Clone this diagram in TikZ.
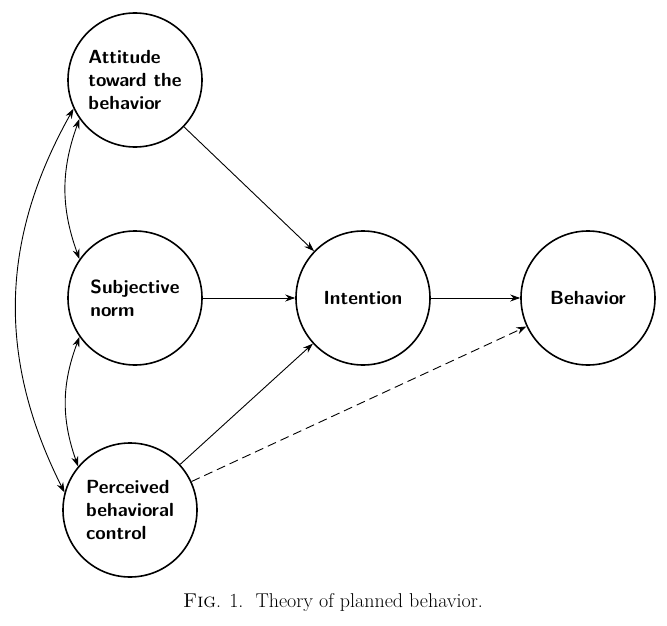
\documentclass[tikz,border=0pt]{standalone}
\usepackage{fontspec}
\usepackage{tikz}
\usetikzlibrary{arrows.meta}
\begin{document}
\begin{tikzpicture}[x=1pt,y=-1pt]
\tikzset{factor/.style={draw, circle, line width=1.6pt, minimum size=134pt, align=left, inner sep=0pt, font=\fontsize{19}{23}\selectfont\sffamily\bfseries},
  link/.style={-{Stealth[length=10pt,width=7pt]}, line width=0.9pt},
  both/.style={link, {Stealth[length=10pt,width=7pt]}-{Stealth[length=10pt,width=7pt]}}}
\useasboundingbox (0,0) rectangle (667,626);
				\node[factor] (A)at(135, 80) {Attitude\\toward the\\behavior};
				\node[factor] (S)at(135, 298) {Subjective\\norm};
				\node[factor] (P)at(130, 510) {Perceived\\behavioral\\control};
				\node[factor] (I)at(363, 298) {Intention};
				\node[factor] (B)at(588, 298) {Behavior};
				\draw[link] (A) -- (I);
				\draw[link] (S) -- (I);
				\draw[link] (P) -- (I);
				\draw[link] (I) -- (B);
				\draw[link, dash pattern=on 9pt off 5pt] (P) -- (B);
				\draw[both] (A.-145) to[bend right=20] (S.145);
				\draw[both] (S.-145) to[bend right=20] (P.140);
				\draw[both] (A.-155) to[bend right=28] (P.165);
				\node[font=\fontsize{20}{24}\selectfont] (cap)at(333, 603) {\textsc{Fig}. 1.\ \ Theory of planned behavior.};
			\end{tikzpicture}
\end{document}
